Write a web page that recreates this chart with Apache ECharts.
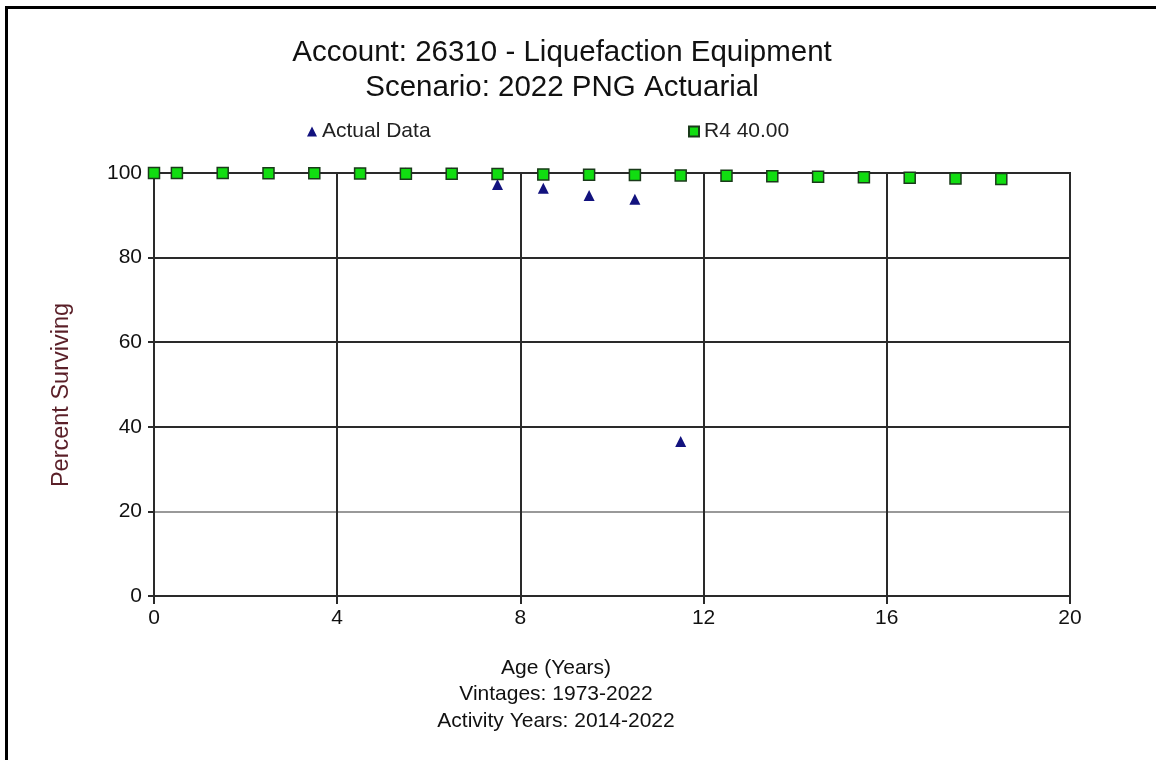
<!DOCTYPE html>
<html>
<head>
<meta charset="utf-8">
<script src="https://cdn.jsdelivr.net/npm/echarts@6/dist/echarts.min.js"></script>
<style>
html,body{margin:0;padding:0;background:#fff;}
#chart{width:1156px;height:760px;}
</style>
</head>
<body>
<div id="chart"></div>
<script>
const titleLines = ['Account: 26310 - Liquefaction Equipment', 'Scenario: 2022 PNG Actuarial'];
const footerLines = ['Age (Years)', 'Vintages: 1973-2022', 'Activity Years: 2014-2022'];
const yAxisTitle = 'Percent Surviving';
const seriesNames = ['Actual Data', 'R4 40.00'];

const actualAges = [0, 0.5, 1.5, 2.5, 3.5, 4.5, 5.5, 6.5, 7.5, 8.5, 9.5, 10.5, 11.5];
const actualValues = [100, 100, 100, 100, 100, 100, 100, 100, 97.3, 96.4, 94.7, 93.8, 36.5];

const curveAges = [0, 0.5, 1.5, 2.5, 3.5, 4.5, 5.5, 6.5, 7.5, 8.5, 9.5, 10.5, 11.5, 12.5, 13.5, 14.5, 15.5, 16.5, 17.5, 18.5];
const curveValues = [100, 100, 99.99, 99.97, 99.94, 99.9, 99.85, 99.8, 99.74, 99.67, 99.6, 99.52, 99.43, 99.34, 99.24, 99.12, 99.0, 98.87, 98.72, 98.56];

const xTicks = [0, 4, 8, 12, 16, 20];
const yTicks = [0, 20, 40, 60, 80, 100];

const chart = echarts.init(document.getElementById('chart'));
const FONT = '"Liberation Sans", Arial, sans-serif';

chart.setOption({
  backgroundColor: '#fff',
  animation: false,
  grid: { left: 154, right: 86, top: 173, bottom: 164, show: true, borderColor: '#2a2a2a', borderWidth: 2 },
  legend: [
    { data: [{ name: seriesNames[0], icon: 'triangle' }], left: 302, top: 116, itemWidth: 10, itemHeight: 10, itemGap: 8,
      textStyle: { fontFamily: FONT, fontSize: 21, color: '#222' } },
    { data: [{ name: seriesNames[1], icon: 'rect' }], left: 683, top: 116, itemWidth: 10, itemHeight: 10, itemGap: 8,
      textStyle: { fontFamily: FONT, fontSize: 21, color: '#222' } }
  ],
  xAxis: {
    type: 'value', min: xTicks[0], max: xTicks[xTicks.length - 1], interval: 4,
    axisLine: { show: true, onZero: false, lineStyle: { color: '#2a2a2a', width: 2 } },
    axisTick: { show: true, length: 8, lineStyle: { color: '#2a2a2a', width: 2 } },
    axisLabel: { fontFamily: FONT, fontSize: 21, color: '#111', margin: 12 },
    splitLine: { show: true, lineStyle: { color: '#2a2a2a', width: 2 } }
  },
  yAxis: {
    type: 'value', min: yTicks[0], max: yTicks[yTicks.length - 1], interval: 20,
    axisLine: { show: true, lineStyle: { color: '#2a2a2a', width: 2 } },
    axisTick: { show: true, length: 6, lineStyle: { color: '#2a2a2a', width: 2 } },
    axisLabel: { fontFamily: FONT, fontSize: 21, color: '#111', margin: 12 },
    splitLine: { show: true, lineStyle: { color: ['#2a2a2a', '#999', '#2a2a2a', '#2a2a2a', '#2a2a2a', '#2a2a2a'], width: 2 } }
  },
  series: [
    {
      name: seriesNames[0], type: 'scatter', symbol: 'triangle', symbolSize: 11, z: 2,
      itemStyle: { color: '#12127e', opacity: 1 },
      data: actualAges.map((a, i) => [a, actualValues[i]])
    },
    {
      name: seriesNames[1], type: 'scatter', symbol: 'rect', symbolSize: 11, z: 3,
      itemStyle: { color: '#11dd11', borderColor: '#1a3a1a', borderWidth: 1.5, opacity: 1 },
      data: curveAges.map((a, i) => [a, curveValues[i]])
    }
  ],
  graphic: [
    { type: 'rect', shape: { x: 5, y: 6, width: 1160, height: 3 }, style: { fill: '#000' }, silent: true },
    { type: 'rect', shape: { x: 5, y: 6, width: 3, height: 760 }, style: { fill: '#000' }, silent: true },
    { type: 'text', x: 562, y: 53, style: { text: titleLines[0], font: '29.5px ' + FONT, fill: '#111', textAlign: 'center', textVerticalAlign: 'middle' } },
    { type: 'text', x: 562, y: 88, style: { text: titleLines[1], font: '29.5px ' + FONT, fill: '#111', textAlign: 'center', textVerticalAlign: 'middle' } },
    { type: 'text', x: 556, y: 668, style: { text: footerLines[0], font: '21px ' + FONT, fill: '#111', textAlign: 'center', textVerticalAlign: 'middle' } },
    { type: 'text', x: 556, y: 694, style: { text: footerLines[1], font: '21px ' + FONT, fill: '#111', textAlign: 'center', textVerticalAlign: 'middle' } },
    { type: 'text', x: 556, y: 721, style: { text: footerLines[2], font: '21px ' + FONT, fill: '#111', textAlign: 'center', textVerticalAlign: 'middle' } },
    { type: 'text', x: 62, y: 395, rotation: Math.PI / 2, style: { text: yAxisTitle, font: '23.5px ' + FONT, fill: '#5a1f28', textAlign: 'center', textVerticalAlign: 'middle' } }
  ]
});
</script>
</body>
</html>
